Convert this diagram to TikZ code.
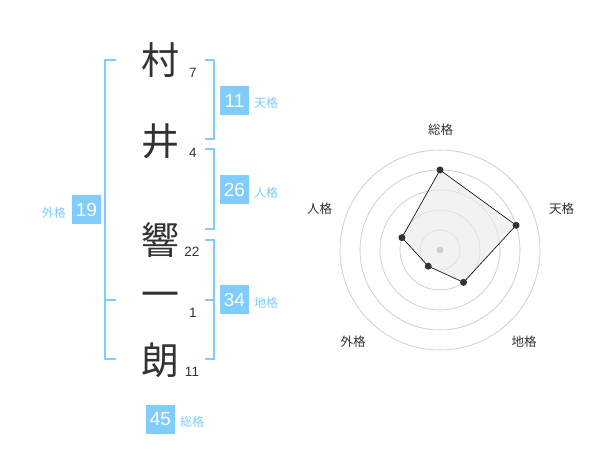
\documentclass[tikz,border=0pt]{standalone}
\usepackage{fontspec}
\setmainfont{Noto Sans CJK JP}
\newfontfamily\digitfont{Liberation Sans}
\begin{document}
\begin{tikzpicture}[x=1pt,y=-1pt,
  kanji/.style={font=\fontsize{38}{38}\selectfont, text=txt, inner sep=0pt},
  strokes/.style={font=\digitfont\fontsize{13.5}{13.5}\selectfont, text=txt, inner sep=0pt},
  valbox/.style={fill=blu, text=white, minimum width=29pt, minimum height=29pt, inner sep=0pt, font=\digitfont\fontsize{19}{19}\selectfont},
  kakulbl/.style={text=blu, font=\fontsize{12}{12}\selectfont, inner sep=0pt},
  brk/.style={draw=blu, line width=1.6pt},
  radlbl/.style={text=txt, font=\fontsize{12.5}{12.5}\selectfont, inner sep=0pt},
  ring/.style={draw=ringc, line width=0.6pt},
  vdot/.style={circle, fill=txt, inner sep=0pt, minimum size=7pt}
]
\definecolor{txt}{HTML}{333333}
\definecolor{blu}{HTML}{80CCFA}
\definecolor{ringc}{HTML}{CFCFCF}
\definecolor{polyfill}{HTML}{F0F0F0}
\useasboundingbox (0,0) rectangle (600,470);
\fill[white] (0,0) rectangle (600,470);

% characters
\node[kanji] (c1) at (160,60) {村};
\node[kanji] (c2) at (160,141) {井};
\node[kanji] (c3) at (160,240) {響};
\node[kanji] (c4) at (160,300) {一};
\node[kanji] (c5) at (160,360) {朗};
\node[strokes] (n1) at (193,73) {7};
\node[strokes] (n2) at (193,153) {4};
\node[strokes] (n3) at (192,252) {22};
\node[strokes] (n4) at (193,313) {1};
\node[strokes] (n5) at (192,372) {11};

% left bracket (gaikaku)
\coordinate (L1) at (116,60);
\coordinate (L2) at (105,60);
\coordinate (L3) at (105,359);
\coordinate (L4) at (116,359);
\coordinate (Lm1) at (105,300);
\coordinate (Lm2) at (116,300);
\draw[brk] (L1) -- (L2) -- (L3) -- (L4);
\draw[brk] (Lm1) -- (Lm2);

% right brackets
\coordinate (T1) at (205,60);
\coordinate (T2) at (214,60);
\coordinate (T3) at (214,139);
\coordinate (T4) at (205,139);
\draw[brk] (T1) -- (T2) -- (T3) -- (T4);
\coordinate (J1) at (205,149);
\coordinate (J2) at (214,149);
\coordinate (J3) at (214,229);
\coordinate (J4) at (205,229);
\draw[brk] (J1) -- (J2) -- (J3) -- (J4);
\coordinate (C1) at (205,240);
\coordinate (C2) at (214,240);
\coordinate (C3) at (214,359);
\coordinate (C4) at (205,359);
\coordinate (Cm1) at (205,300);
\coordinate (Cm2) at (214,300);
\draw[brk] (C1) -- (C2) -- (C3) -- (C4);
\draw[brk] (Cm1) -- (Cm2);

% value boxes
\node[valbox] (b1) at (234.5,100.5) {11};
\node[kakulbl, anchor=west] (k1) at (254,103) {天格};
\node[valbox] (b2) at (234.5,190) {26};
\node[kakulbl, anchor=west] (k2) at (254,193) {人格};
\node[valbox] (b3) at (234.5,300) {34};
\node[kakulbl, anchor=west] (k3) at (254,303) {地格};
\node[valbox] (b4) at (86.5,210) {19};
\node[kakulbl, anchor=east] (k4) at (66,213) {外格};
\node[valbox] (b5) at (160.5,419) {45};
\node[kakulbl, anchor=west] (k5) at (180,422) {総格};

% radar chart
\begin{scope}[shift={(440,250)}, y=1pt]
  \foreach \r in {20,40,60,80,100} \draw[ring] (0,0) circle[radius=\r];
  \coordinate (pS) at (90:80);
  \coordinate (pT) at (18:80);
  \coordinate (pC) at (-54:40);
  \coordinate (pG) at (-126:20);
  \coordinate (pJ) at (162:40);
  \fill[polyfill, opacity=0.85] (pS) -- (pT) -- (pC) -- (pG) -- (pJ) -- cycle;
  \foreach \r in {20,40,60,80,100} \draw[ring, opacity=0.5] (0,0) circle[radius=\r];
  \draw[black, line width=0.6pt] (pS) -- (pT) -- (pC) -- (pG) -- (pJ) -- cycle;
  \node[circle, fill=ringc, inner sep=0pt, minimum size=7pt] (ctr) at (0,0) {};
  \node[vdot] (dS) at (pS) {};
  \node[vdot] (dT) at (pT) {};
  \node[vdot] (dC) at (pC) {};
  \node[vdot] (dG) at (pG) {};
  \node[vdot] (dJ) at (pJ) {};
\end{scope}
\node[radlbl] (lS) at (440.5,130) {総格};
\node[radlbl] (lT) at (561.5,209) {天格};
\node[radlbl] (lC) at (524,342) {地格};
\node[radlbl] (lG) at (353,342) {外格};
\node[radlbl] (lJ) at (319.5,209) {人格};
\end{tikzpicture}
\end{document}
